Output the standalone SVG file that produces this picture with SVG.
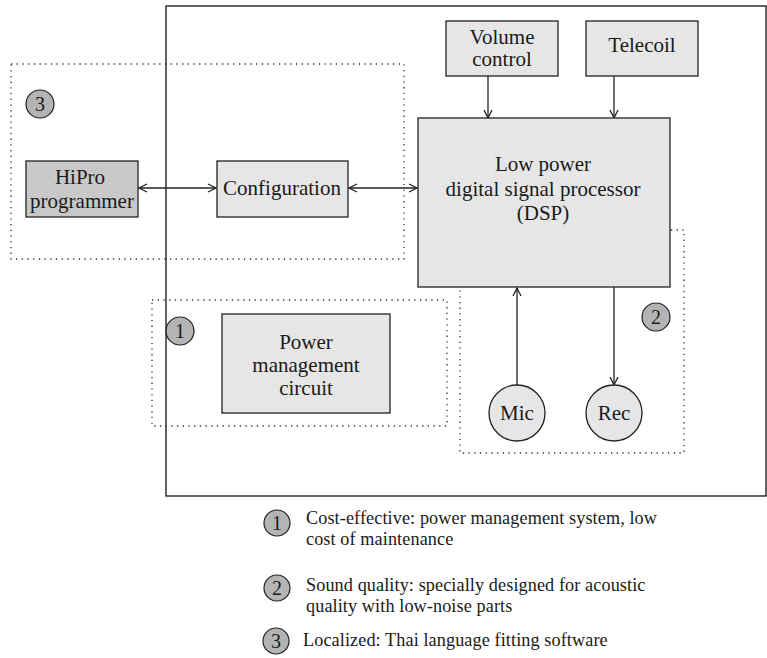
<svg xmlns="http://www.w3.org/2000/svg" width="767" height="658" viewBox="0 0 767 658">
  <style>
    .box { stroke: #222; stroke-width: 1.3; }
    .light { fill: #e6e6e6; }
    .dark { fill: #c8c8c8; }
    .zone { fill: none; stroke: #333; stroke-width: 1.3; stroke-dasharray: 1.3 4.4; }
    .frame { fill: none; stroke: #111; stroke-width: 1.3; }
    .t { font-family: "Liberation Serif", "Times New Roman", serif; font-size: 21px; fill: #1a1a1a; text-anchor: middle; }
    .badge { fill: #b4b4b4; stroke: #222; stroke-width: 1.2; }
    .bt { font-family: "Liberation Serif", "Times New Roman", serif; font-size: 20px; fill: #1a1a1a; text-anchor: middle; }
    .lg { font-family: "Liberation Serif", "Times New Roman", serif; font-size: 18.2px; fill: #1a1a1a; letter-spacing: 0.1px; }
    .wire { fill: none; stroke: #222; stroke-width: 1.3; }
  </style>
  <defs>
    <marker id="head" viewBox="0 0 10 10" refX="9" refY="5" markerWidth="10" markerHeight="10" markerUnits="userSpaceOnUse" orient="auto-start-reverse">
      <path d="M1,1 L9,5 L1,9" fill="none" stroke="#222" stroke-width="1.3"/>
    </marker>
  </defs>
  <rect width="767" height="658" fill="#fff"/>

  <!-- device enclosure -->
  <rect class="frame" x="166" y="6" width="600" height="490"/>

  <!-- feature zones -->
  <rect class="zone" x="11" y="64" width="393" height="195"/>
  <rect class="zone" x="152" y="300" width="295" height="126"/>
  <rect class="zone" x="460" y="230" width="224" height="223"/>

  <g id="connectors">
    <line class="wire" x1="139" y1="188" x2="216" y2="188" marker-start="url(#head)" marker-end="url(#head)"/>
    <line class="wire" x1="349" y1="188" x2="417" y2="188" marker-start="url(#head)" marker-end="url(#head)"/>
    <line class="wire" x1="488" y1="76" x2="488" y2="118" marker-end="url(#head)"/>
    <line class="wire" x1="614" y1="76" x2="614" y2="118" marker-end="url(#head)"/>
    <line class="wire" x1="517" y1="385" x2="517" y2="288" marker-end="url(#head)"/>
    <line class="wire" x1="614" y1="287" x2="614" y2="385" marker-end="url(#head)"/>
  </g>

  <g id="hipro">
    <rect class="box dark" x="26" y="161" width="112" height="56"/>
    <text class="t" x="80" y="184">HiPro</text>
    <text class="t" x="82" y="208">programmer</text>
  </g>

  <g id="configuration">
    <rect class="box light" x="217" y="161" width="131" height="56"/>
    <text class="t" x="282" y="195">Configuration</text>
  </g>

  <g id="volume">
    <rect class="box light" x="446" y="21" width="112" height="55"/>
    <text class="t" x="502" y="44">Volume</text>
    <text class="t" x="502" y="66">control</text>
  </g>

  <g id="telecoil">
    <rect class="box light" x="586" y="21" width="112" height="55"/>
    <text class="t" x="642" y="52">Telecoil</text>
  </g>

  <g id="dsp">
    <rect class="box light" x="418" y="118" width="252" height="169"/>
    <text class="t" x="543" y="171">Low power</text>
    <text class="t" x="543" y="196">digital signal processor</text>
    <text class="t" x="543" y="220">(DSP)</text>
  </g>

  <g id="power">
    <rect class="box light" x="222" y="314" width="168" height="99"/>
    <text class="t" x="306" y="349">Power</text>
    <text class="t" x="306" y="372">management</text>
    <text class="t" x="306" y="395">circuit</text>
  </g>

  <g id="mic">
    <circle class="box light" cx="517" cy="413" r="28"/>
    <text class="t" x="517" y="420">Mic</text>
  </g>

  <g id="rec">
    <circle class="box light" cx="614" cy="413" r="28"/>
    <text class="t" x="614" y="420">Rec</text>
  </g>

  <!-- zone badges -->
  <g id="badge3">
    <circle class="badge" cx="40" cy="104" r="14"/>
    <text class="bt" x="40" y="111">3</text>
  </g>
  <g id="badge1">
    <circle class="badge" cx="180" cy="331" r="14"/>
    <text class="bt" x="180" y="338">1</text>
  </g>
  <g id="badge2">
    <circle class="badge" cx="656" cy="317" r="14"/>
    <text class="bt" x="656" y="324">2</text>
  </g>

  <!-- legend -->
  <g id="legend">
    <circle class="badge" cx="277" cy="523" r="13"/>
    <text class="bt" x="277" y="530">1</text>
    <text class="lg" x="306" y="524">Cost-effective: power management system, low</text>
    <text class="lg" x="306" y="545">cost of maintenance</text>

    <circle class="badge" cx="277" cy="588" r="13"/>
    <text class="bt" x="277" y="595">2</text>
    <text class="lg" x="306" y="591">Sound quality: specially designed for acoustic</text>
    <text class="lg" x="306" y="612">quality with low-noise parts</text>

    <circle class="badge" cx="276" cy="641" r="13"/>
    <text class="bt" x="276" y="648">3</text>
    <text class="lg" x="303" y="646">Localized: Thai language fitting software</text>
  </g>
</svg>
